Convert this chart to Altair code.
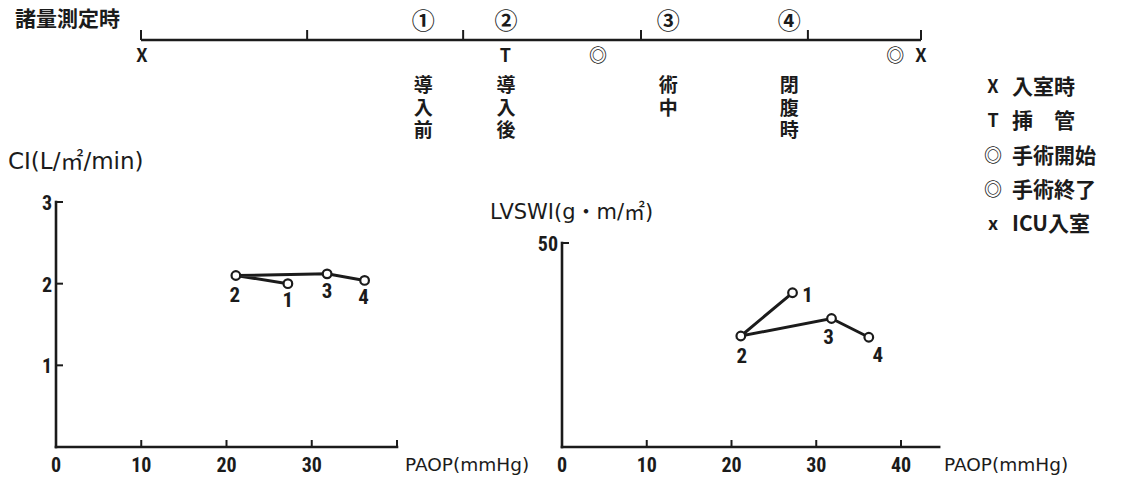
import altair as alt
import pandas as pd

# ---------------- data ----------------
stage = ["1", "2", "3", "4"]
paop = [27.2, 21.1, 31.8, 36.2]          # PAOP (mmHg)
ci = [2.00, 2.10, 2.12, 2.04]            # CI (L/m2/min)
lvswi = [37.8, 27.2, 31.5, 26.9]         # LVSWI (g·m/m2)

ci_ticks = [1, 2, 3]
ci_labels = ["1", "2", "3"]
left_x_ticks = [10, 20, 30, 40]
left_x_labels = [0, 10, 20, 30]
right_x_ticks = [10, 20, 30, 40]
right_x_labels = [0, 10, 20, 30, 40]
lv_ticks = [50]
lv_labels = ["50"]

timeline_ticks = [0, 21.3, 41.3, 64.1, 85.5, 100]
measure_marks = ["①", "②", "③", "④"]
measure_pos = [36.2, 46.8, 67.6, 83.1]
measure_names = ["導入前", "導入後", "術中", "閉腹時"]
event_symbols = ["X", "T", "◎", "◎", "X"]
event_pos = [0.1, 46.7, 58.6, 96.7, 100]
legend_symbols = ["X", "T", "◎", "◎", "x"]
legend_names = ["入室時", "挿　管", "手術開始", "手術終了", "ICU入室"]

INK = "#1b1b1b"
JP = "Noto Sans CJK JP"
LAT = "DejaVu Sans, Noto Sans CJK JP"
NUM = "Roboto Condensed, Roboto, sans-serif"

# ---------------- scales ----------------
TL = alt.Scale(domain=[0, 100], range=[133, 913], nice=False)
CH = alt.Scale(domain=[0, 2], range=[78, 123], nice=False)
LX = alt.Scale(domain=[0, 40], range=[48, 389], nice=False)
LY = alt.Scale(domain=[0, 3], range=[439, 194], nice=False)
RX = alt.Scale(domain=[0, 40], range=[554, 893], nice=False)
RY = alt.Scale(domain=[0, 50], range=[439, 235], nice=False)
LG = alt.Scale(domain=[0, 4], range=[80, 217], nice=False)


def qx(field, sc):
    return alt.X(field, type="quantitative", scale=sc, axis=None)


def qy(field, sc):
    return alt.Y(field, type="quantitative", scale=sc, axis=None)


layers = []

# ---------------- timeline ----------------
tl_line = pd.DataFrame({"a": [timeline_ticks[0]], "b": [timeline_ticks[-1]]})
layers.append(alt.Chart(tl_line).mark_rule(color=INK, strokeWidth=2.3).encode(
    x=qx("a", TL), x2="b", y=alt.value(32)))
tl_t = pd.DataFrame({"p": timeline_ticks})
layers.append(alt.Chart(tl_t).mark_rule(color=INK, strokeWidth=2).encode(
    x=qx("p", TL), y=alt.value(22), y2=alt.value(32)))
tl_m = pd.DataFrame({"p": measure_pos, "m": measure_marks})
layers.append(alt.Chart(tl_m).mark_text(font=JP, fontSize=23, fontWeight="bold", color=INK,
                                        baseline="middle").encode(
    x=qx("p", TL), y=alt.value(14), text="m"))
chars = pd.DataFrame([{"p": p, "k": k, "c": c}
                      for p, name in zip(measure_pos, measure_names)
                      for k, c in enumerate(name)])
layers.append(alt.Chart(chars).mark_text(font=JP, fontSize=19, fontWeight="bold", color=INK,
                                         baseline="middle").encode(
    x=qx("p", TL), y=qy("k", CH), text="c"))
tl_e = pd.DataFrame({"p": event_pos, "s": event_symbols})
layers.append(alt.Chart(tl_e).mark_text(font=JP, fontSize=18, fontWeight="bold", color=INK,
                                        baseline="middle").encode(
    x=qx("p", TL), y=alt.value(49), text="s"))

# ---------------- legend ----------------
lg = pd.DataFrame({"r": list(range(len(legend_names))), "s": legend_symbols, "n": legend_names})
layers.append(alt.Chart(lg).mark_text(font=JP, fontSize=18, fontWeight="bold", color=INK,
                                      baseline="middle").encode(
    x=alt.value(985), y=qy("r", LG), text="s"))
layers.append(alt.Chart(lg).mark_text(font=JP, fontSize=21, fontWeight="bold", color=INK,
                                      baseline="middle", align="left").encode(
    x=alt.value(1004), y=qy("r", LG), text="n"))

# ---------------- titles ----------------
titles = [
    ("諸量測定時", JP, 7, 12, 21, "bold"),
    ("CI(L/㎡/min)", LAT, 0, 154, 23, "normal"),
    ("LVSWI(g・m/㎡)", LAT, 482, 205, 21, "normal"),
    ("PAOP(mmHg)", LAT, 397, 457, 18.5, "normal"),
    ("PAOP(mmHg)", LAT, 936, 457, 18.5, "normal"),
]
for t, f, x, y, fs, fw in titles:
    layers.append(alt.Chart(pd.DataFrame({"t": [t]})).mark_text(
        font=f, fontSize=fs, fontWeight=fw, color=INK, align="left", baseline="middle").encode(
        x=alt.value(x), y=alt.value(y), text="t"))


# ---------------- panels ----------------
def panel(sx, sy, yval, xmax, ymax, xticks, xlabels, yticks, ylabels, offsets):
    out = []
    ax = pd.DataFrame({"x": [0, 0], "x2": [0, xmax], "y": [0, 0], "y2": [ymax, 0]})
    out.append(alt.Chart(ax).mark_rule(color=INK, strokeWidth=2.6, strokeCap="square").encode(
        x=qx("x", sx), x2="x2", y=qy("y", sy), y2="y2"))
    yt = pd.DataFrame({"x": [0] * len(yticks), "y": yticks})
    out.append(alt.Chart(yt).mark_rule(color=INK, strokeWidth=2, x2Offset=7).encode(
        x=qx("x", sx), x2="x", y=qy("y", sy)))
    xt = pd.DataFrame({"x": xticks, "y": [0] * len(xticks)})
    out.append(alt.Chart(xt).mark_rule(color=INK, strokeWidth=2, y2Offset=-7).encode(
        x=qx("x", sx), y=qy("y", sy), y2="y"))
    yl = pd.DataFrame({"x": [0] * len(yticks), "y": yticks, "t": ylabels})
    out.append(alt.Chart(yl).mark_text(font=NUM, fontSize=20, fontWeight="bold", color=INK,
                                       align="right", baseline="middle", dx=-4, dy=2).encode(
        x=qx("x", sx), y=qy("y", sy), text="t"))
    xl = pd.DataFrame({"x": xlabels, "y": [0] * len(xlabels), "t": [str(v) for v in xlabels]})
    out.append(alt.Chart(xl).mark_text(font=NUM, fontSize=20, fontWeight="bold", color=INK,
                                       baseline="middle", dy=19).encode(
        x=qx("x", sx), y=qy("y", sy), text="t"))
    d = pd.DataFrame({"i": [0, 1, 2, 3], "stage": stage, "paop": paop, "v": yval})
    out.append(alt.Chart(d).mark_line(color=INK, strokeWidth=3).encode(
        x=qx("paop", sx), y=qy("v", sy), order="i:Q"))
    out.append(alt.Chart(d).mark_point(shape="circle", filled=True, fill="white", stroke=INK,
                                       strokeWidth=2.2, size=75, opacity=1).encode(
        x=qx("paop", sx), y=qy("v", sy)))
    for s, (dx, dy) in offsets.items():
        out.append(alt.Chart(d).transform_filter(alt.datum.stage == s).mark_text(
            font=NUM, fontSize=21, fontWeight="bold", color=INK, baseline="middle", dx=dx, dy=dy).encode(
            x=qx("paop", sx), y=qy("v", sy), text="stage"))
    return out


layers += panel(LX, LY, ci, 40, 3, left_x_ticks, left_x_labels, ci_ticks, ci_labels,
                {"1": (0, 17), "2": (-1, 20), "3": (0, 18), "4": (-1, 18)})
layers += panel(RX, RY, lvswi, 44.5, 50, right_x_ticks, right_x_labels, lv_ticks, lv_labels,
                {"1": (15, 3), "2": (1, 21), "3": (-3, 20), "4": (9, 19)})

chart = alt.layer(*layers).resolve_scale(x="independent", y="independent").properties(
    width=1110, height=472, padding=0, autosize="none", background="white"
).configure_view(stroke=None)

chart.save("out.html", embed_options={"renderer": "svg", "actions": False})
